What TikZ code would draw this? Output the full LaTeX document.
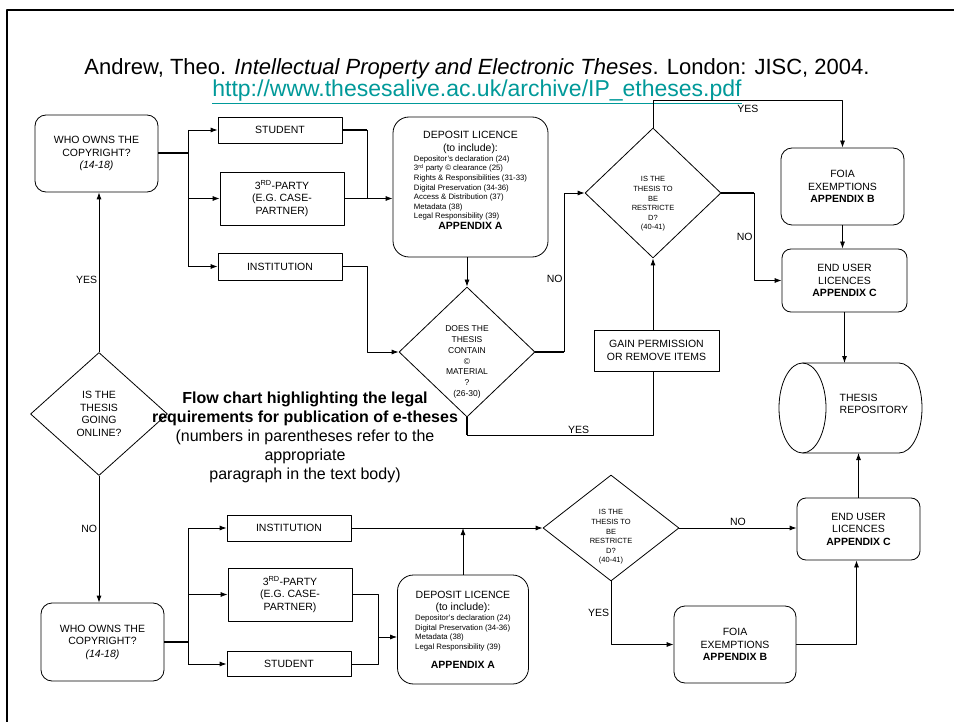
\documentclass[tikz,border=0pt]{standalone}
\usepackage{fontspec}
\setmainfont{Liberation Sans}
\usetikzlibrary{shapes.geometric,arrows.meta}
\definecolor{urlteal}{RGB}{0,153,153}
\tikzset{
box/.style={draw,align=center,inner sep=1pt,minimum width=124pt},
rbox/.style={box,rounded corners=11pt},
ask/.style={draw,diamond,inner sep=0pt,minimum width=136pt,minimum height=130pt,align=center},
asktext/.style={font=\fontsize{7.5}{9.6}\selectfont,align=center},
heavy/.style={line width=2pt},
lab/.style={inner sep=1.5pt}
}
\newcommand{\listfont}{\fontsize{7.8}{9.6}\selectfont}
\begin{document}
\begin{tikzpicture}[x=1pt,y=-1pt,>={Latex[length=7pt,width=5pt]},line width=0.8pt,line join=round,font=\fontsize{10.5}{12.5}\selectfont]
\useasboundingbox (0,0) rectangle (954,722);
\draw[line width=2.5pt] (7,722)--(7,10)--(954,10);
\node[font=\fontsize{22}{24}\selectfont] (cite) at (477,69) {Andrew, Theo. \textit{Intellectual Property and Electronic Theses}. London: JISC, 2004.};
\node[font=\fontsize{23}{24}\selectfont,text=urlteal] (url) at (477,92) {\underline{http://www.thesesalive.ac.uk/archive/IP\_etheses.pdf}};
\node[align=center,font=\fontsize{16}{19}\selectfont] (note) at (305,437.5) {\textbf{Flow chart highlighting the legal}\\\textbf{requirements for publication of e-theses}\\(numbers in parentheses refer to the\\appropriate\\paragraph in the text body)};
% upper branch
\node[rbox,minimum width=123pt,minimum height=77pt] (who1) at (96.5,153.5) {WHO OWNS THE\\COPYRIGHT?\\\textit{(14-18)}};
\node[box,minimum height=26pt] (stu1) at (280,130) {STUDENT};
\node[box,minimum height=53pt] (third1) at (282,198.5) {3\textsuperscript{RD}-PARTY\\(E.G. CASE-\\PARTNER)};
\node[box,minimum height=27pt] (inst1) at (280,266.5) {INSTITUTION};
\node[rbox,rounded corners=16pt,minimum width=155pt,minimum height=140pt] (dep1) at (470.5,187) {DEPOSIT LICENCE\\(to include):\\
{\listfont\begin{tabular}{@{}l@{}}Depositor's declaration (24)\\3\textsuperscript{rd} party © clearance (25)\\Rights \& Responsibilities (31-33)\\Digital Preservation (34-36)\\Access \& Distribution (37)\\Metadata (38)\\Legal Responsibility (39)\end{tabular}}\\\textbf{APPENDIX A}\\[0pt]\mbox{}};
\node[ask,label={[asktext,font=\fontsize{8.5}{10.7}\selectfont,yshift=-10pt]center:{DOES THE\\THESIS\\CONTAIN\\©\\MATERIAL\\?\\(26-30)}}] (does) at (467,352) {};
\node[ask,label={[asktext,yshift=-11pt]center:{IS THE\\THESIS TO\\BE\\RESTRICTE\\D?\\(40-41)}}] (restr1) at (653,193) {};
\node[box,minimum width=125pt,minimum height=41pt] (gain) at (656.5,350.5) {GAIN PERMISSION\\OR REMOVE ITEMS};
\node[rbox,minimum width=123pt,minimum height=77pt] (foia1) at (842.5,186.5) {FOIA\\EXEMPTIONS\\\textbf{APPENDIX B}};
\node[rbox,rounded corners=9pt,minimum width=125pt,minimum height=63pt] (eul1) at (844.5,280.5) {END USER\\LICENCES\\\textbf{APPENDIX C}};
\node[minimum width=143pt,minimum height=90pt,inner sep=0pt,outer sep=0pt] (repo) at (850.5,408) {};
\draw ([xshift=23.5pt]repo.north west)--([xshift=-23pt]repo.north east) arc[start angle=90,end angle=-90,x radius=23pt,y radius=45pt]--([xshift=23.5pt]repo.south west);
\draw ([xshift=23.5pt]repo.west) ellipse[x radius=23.5pt,y radius=45pt];
\node[align=left,anchor=west] (repolbl) at (836,404) {THESIS\\REPOSITORY};
% start
\node[ask,minimum width=137pt,minimum height=123pt] (online) at (99,414) {IS THE\\THESIS\\GOING\\ONLINE?};
% lower branch
\node[rbox,minimum width=123pt,minimum height=78pt] (who2) at (102.5,642) {WHO OWNS THE\\COPYRIGHT?\\\textit{(14-18)}};
\node[box,minimum height=26pt] (inst2) at (289,528) {INSTITUTION};
\node[box,minimum height=53pt] (third2) at (290,594.5) {3\textsuperscript{RD}-PARTY\\(E.G. CASE-\\PARTNER)};
\node[box,minimum height=25pt] (stu2) at (289,664) {STUDENT};
\node[rbox,rounded corners=16pt,minimum width=131pt,minimum height=109pt] (dep2) at (463,629.5) {DEPOSIT LICENCE\\(to include):\\
{\listfont\begin{tabular}{@{}l@{}}Depositor's declaration (24)\\Digital Preservation (34-36)\\Metadata (38)\\Legal Responsibility (39)\end{tabular}}\\[8pt]\textbf{APPENDIX A}};
\node[ask,minimum height=106pt,label={[asktext,yshift=-9pt]center:{IS THE\\THESIS TO\\BE\\RESTRICTE\\D?\\(40-41)}}] (restr2) at (611,528) {};
\node[rbox,rounded corners=9pt,minimum width=123pt,minimum height=62pt] (eul2) at (858.5,529) {END USER\\LICENCES\\\textbf{APPENDIX C}};
\node[rbox,minimum width=122pt,minimum height=77pt] (foia2) at (735,644.5) {FOIA\\EXEMPTIONS\\\textbf{APPENDIX B}};
% connectors, upper
\draw[->] (online.north)--(online.north|-who1.south) node[lab,pos=.45,left]{YES};
\draw[heavy] (who1.east)--(188,153.5) coordinate (fork1);
\draw (fork1|-stu1.west)--(fork1|-inst1.west);
\draw[->] (fork1|-stu1.west)--(stu1.west);
\draw[->] (fork1|-third1.west)--(third1.west);
\draw[->] (fork1|-inst1.west)--(inst1.west);
\draw[heavy] (stu1.east)--(367,130) coordinate (bend1);
\draw (bend1)--(367,198.5) coordinate (join1);
\draw[->] (third1.east)--(third1.east-|dep1.west);
\draw[->] (inst1.east)-|(367,352)--(does.west);
\draw[->] (does.north|-dep1.south)--(does.north);
\draw[heavy] (does.east)--++(29,0) coordinate (turn1);
\draw[->] (turn1)|-(restr1.west) node[lab,pos=.23,left]{NO};
\draw[heavy] (does.south)--++(0,18) coordinate (turn2);
\draw (turn2)-|(restr1.south|-gain.south) node[lab,pos=.3,above]{YES};
\draw[->] (restr1.south|-gain.north)--(restr1.south);
\draw[->] (restr1.north)--++(0,-27)-|(foia1.north) node[lab,pos=.25,below,yshift=-3pt]{YES};
\draw[heavy] (restr1.east)--++(33,0) coordinate (turn3);
\draw[->] (turn3)|-(eul1.west) node[lab,pos=.25,left]{NO};
\draw[->] (foia1.south)--(foia1.south|-eul1.north);
\draw[->] (eul1.south)--(eul1.south|-repo.north);
% connectors, lower
\draw[->] (online.south)--(online.south|-who2.north) node[lab,pos=.42,left]{NO};
\draw[heavy] (who2.east)--(188,642) coordinate (fork2);
\draw (fork2|-inst2.west)--(fork2|-stu2.west);
\draw[->] (fork2|-inst2.west)--(inst2.west);
\draw[->] (fork2|-third2.west)--(third2.west);
\draw[->] (fork2|-stu2.west)--(stu2.west);
\draw (third2.east)-|(378,637) coordinate (join2);
\draw (stu2.east)-|(join2);
\draw[->] (join2)--(join2-|dep2.west);
\draw[->] (inst2.east)--(restr2.west);
\draw[->] (dep2.north)--(dep2.north|-inst2.east);
\draw[->] (restr2.east)--(restr2.east-|eul2.west) node[lab,midway,above]{NO};
\draw[->] (restr2.south)|-(foia2.west) node[lab,pos=.25,left]{YES};
\draw[->] (foia2.east)-|([xshift=-2pt]eul2.south);
\draw[->] (eul2.north)--(eul2.north|-repo.south);
\end{tikzpicture}
\end{document}
